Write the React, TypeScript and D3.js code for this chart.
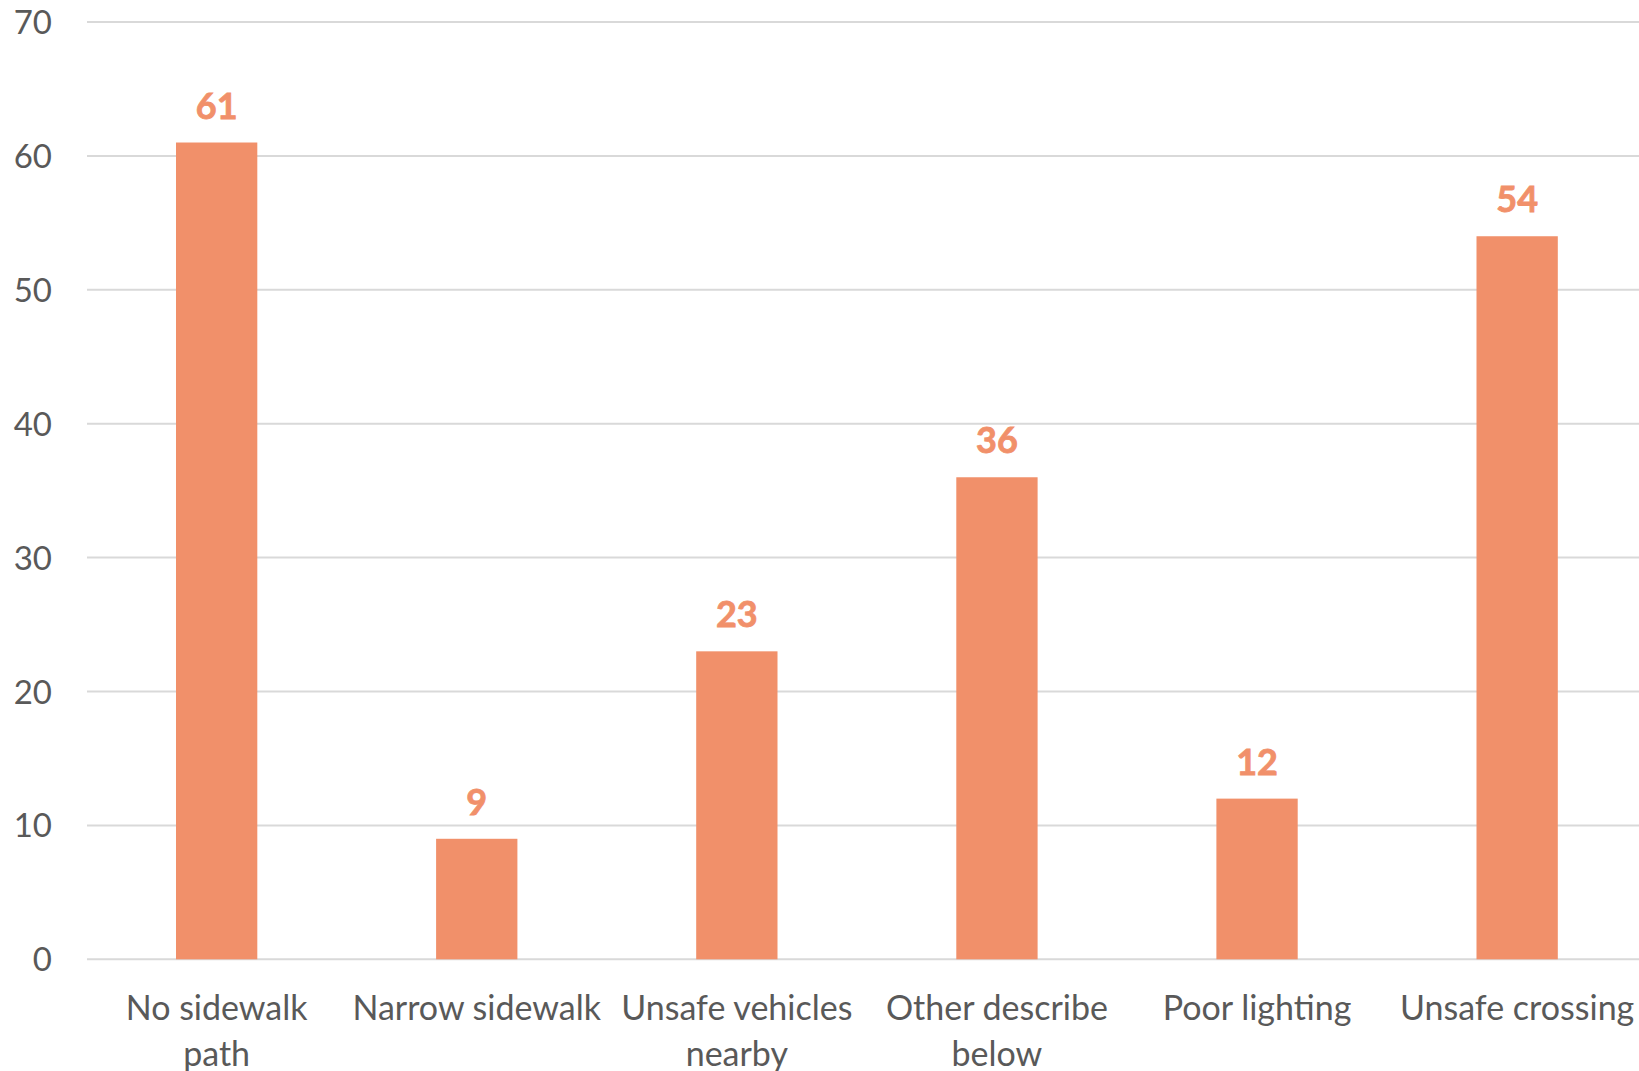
import React from "react";
import * as d3 from "d3";

const categories = [
  "No sidewalk path",
  "Narrow sidewalk",
  "Unsafe vehicles nearby",
  "Other describe below",
  "Poor lighting",
  "Unsafe crossing",
];
const categoryLines = [
  ["No sidewalk", "path"],
  ["Narrow sidewalk"],
  ["Unsafe vehicles", "nearby"],
  ["Other describe", "below"],
  ["Poor lighting"],
  ["Unsafe crossing"],
];
const values = [61, 9, 23, 36, 12, 54];
const yTicks = [0, 10, 20, 30, 40, 50, 60, 70];

const W = 1639;
const H = 1071;
const FONT = "Lato, 'Open Sans', sans-serif";

export default function App() {
  const x = d3
    .scaleBand<string>()
    .domain(categories)
    .range([86.6, 86.6 + 260.1 * 6])
    .paddingInner(0.6874)
    .paddingOuter(0.3437);
  const y = d3.scaleLinear().domain([0, 70]).range([959.3, 22]);
  const gridLeft = 87;
  const barColor = "#F1906A";

  return (
    <svg
      width={W}
      height={H}
      style={{ position: "absolute", left: 0, top: 0, background: "#fff" }}
    >
      {yTicks.map((t) => (
        <g key={t}>
          <line
            x1={gridLeft}
            x2={W}
            y1={y(t)}
            y2={y(t)}
            stroke="#D9D9D9"
            strokeWidth={2}
          />
          <text
            x={52}
            y={y(t) + 12}
            textAnchor="end"
            fontFamily={FONT}
            fontSize={33}
            fill="#595959"
          >
            {t}
          </text>
        </g>
      ))}
      {categories.map((c, i) => {
        const bx = x(c)!;
        const bw = x.bandwidth();
        const cx = bx + bw / 2;
        return (
          <g key={c}>
            <rect
              x={bx}
              y={y(values[i])}
              width={bw}
              height={y(0) - y(values[i])}
              fill={barColor}
            />
            <text
              x={cx}
              y={y(values[i]) - 24}
              textAnchor="middle"
              fontFamily={FONT}
              fontWeight="bold"
              fontSize={36}
              fill={barColor}
              stroke={barColor}
              strokeWidth={0.8}
            >
              {values[i]}
            </text>
            {categoryLines[i].map((ln, j) => (
              <text
                key={j}
                x={cx}
                y={1020 + j * 46}
                textAnchor="middle"
                fontFamily={FONT}
                fontSize={34}
                fill="#595959"
              >
                {ln}
              </text>
            ))}
          </g>
        );
      })}
    </svg>
  );
}
